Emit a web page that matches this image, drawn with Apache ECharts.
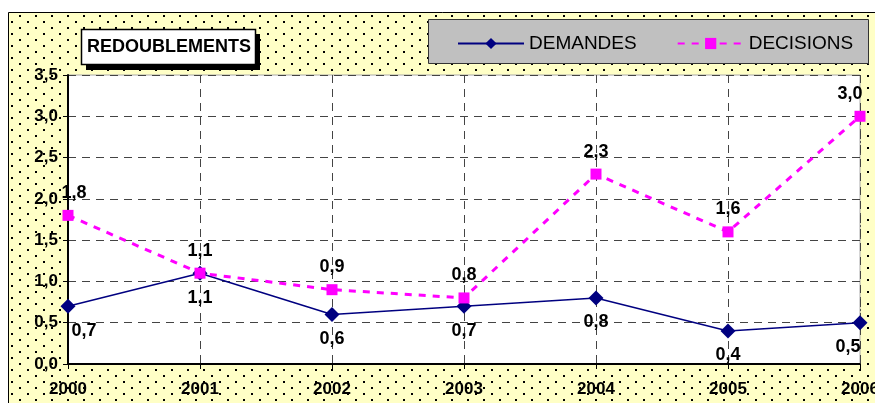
<!DOCTYPE html>
<html>
<head>
<meta charset="utf-8">
<script src="https://cdn.jsdelivr.net/npm/echarts@6/dist/echarts.min.js"></script>
<style>
    html, body { margin: 0; padding: 0; background: #fff; }
    #chart { width: 875px; height: 403px; }
</style>
</head>
<body>
<div id="chart"></div>
<script>
    var years = ['2000', '2001', '2002', '2003', '2004', '2005', '2006'];
    var demandes = [0.7, 1.1, 0.6, 0.7, 0.8, 0.4, 0.5];
    var decisions = [1.8, 1.1, 0.9, 0.8, 2.3, 1.6, 3.0];

    // dotted yellow background like the office chart
    var pat = document.createElement('canvas');
    pat.width = 16; pat.height = 12;
    var ctx = pat.getContext('2d');
    ctx.fillStyle = '#FFFFC6';
    ctx.fillRect(0, 0, 16, 12);
    ctx.fillStyle = '#000';
    ctx.fillRect(3, 3, 2, 2);
    ctx.fillRect(11, 9, 2, 2);

    function fmt(p) { return p.value.toFixed(1).replace('.', ','); }

    var lblFont = { fontFamily: 'Liberation Sans, Arial', fontWeight: 'bold', fontSize: 18, color: '#000' };

    var chart = echarts.init(document.getElementById('chart'));
    chart.setOption({
        animation: false,
        graphic: [
            { type: 'rect', z: -10, shape: { x: 8.5, y: 12.5, width: 880, height: 400 },
              style: { fill: { image: pat, repeat: 'repeat' }, stroke: '#000', lineWidth: 1 } },
            { type: 'rect', z: 10, shape: { x: 86, y: 34, width: 174, height: 36 }, style: { fill: '#000' } },
            { type: 'rect', z: 11, shape: { x: 81.5, y: 29.5, width: 174, height: 35 },
              style: { fill: '#fff', stroke: '#000', lineWidth: 1.5 } },
            { type: 'text', z: 12, left: 87, top: 38,
              style: { text: 'REDOUBLEMENTS', font: 'bold 18px "Liberation Sans", Arial', fill: '#000' } },
            { type: 'rect', z: 1, shape: { x: 428.5, y: 19.5, width: 440, height: 44 },
              style: { fill: '#C0C0C0', stroke: '#333', lineWidth: 1 } }
        ],
        legend: {
            left: 452, top: 29, itemWidth: 66, itemHeight: 14, itemGap: 40, z: 20,
            textStyle: { fontFamily: 'Liberation Sans, Arial', fontSize: 19, color: '#000' },
            data: ['DEMANDES', 'DECISIONS']
        },
        grid: { left: 68, top: 75, right: 15, bottom: 39, outerBoundsMode: 'none', containLabel: false,
            show: true, backgroundColor: '#fff', borderColor: '#aaa', borderWidth: 1 },
        xAxis: {
            type: 'category', data: years, boundaryGap: false,
            axisLine: { lineStyle: { color: '#000', width: 2 } },
            axisTick: { show: true, length: 5, lineStyle: { color: '#000' } },
            axisLabel: { fontFamily: 'Liberation Sans, Arial', fontWeight: 'bold', fontSize: 17, color: '#000', margin: 17 },
            splitLine: { show: true, lineStyle: { color: '#444', type: [8, 6], width: 1 } }
        },
        yAxis: {
            type: 'value', min: 0, max: 3.5, interval: 0.5,
            axisLine: { show: true, lineStyle: { color: '#000', width: 2 } },
            axisTick: { show: true, length: 5, lineStyle: { color: '#000' } },
            axisLabel: { fontFamily: 'Liberation Sans, Arial', fontWeight: 'bold', fontSize: 17, color: '#000', margin: 10,
                formatter: function (v) { return v.toFixed(1).replace('.', ','); } },
            splitLine: { show: true, lineStyle: { color: '#444', type: [8, 6], width: 1 } }
        },
        series: [
            {
                name: 'DEMANDES', type: 'line', data: demandes.map(function (v, i) {
                    var o = { value: v };
                    if (i === 0) o.label = { offset: [16, 0] };
                    if (i === demandes.length - 1) o.label = { offset: [-12, 0] };
                    return o;
                }),
                symbol: 'diamond', symbolSize: 15, z: 5,
                itemStyle: { color: '#000080' },
                lineStyle: { color: '#000080', width: 1.5 },
                label: Object.assign({ show: true, position: 'bottom', distance: 8, formatter: fmt }, lblFont)
            },
            {
                name: 'DECISIONS', type: 'line', data: decisions.map(function (v, i) {
                    var o = { value: v };
                    if (i === 0) o.label = { offset: [6, 0] };
                    if (i === decisions.length - 1) o.label = { offset: [-10, 0] };
                    return o;
                }),
                symbol: 'rect', symbolSize: 11, z: 6,
                itemStyle: { color: '#FF00FF' },
                lineStyle: { color: '#FF00FF', width: 3, type: [7, 7] },
                label: Object.assign({ show: true, position: 'top', distance: 8, formatter: fmt }, lblFont)
            }
        ]
    });
</script>
</body>
</html>
